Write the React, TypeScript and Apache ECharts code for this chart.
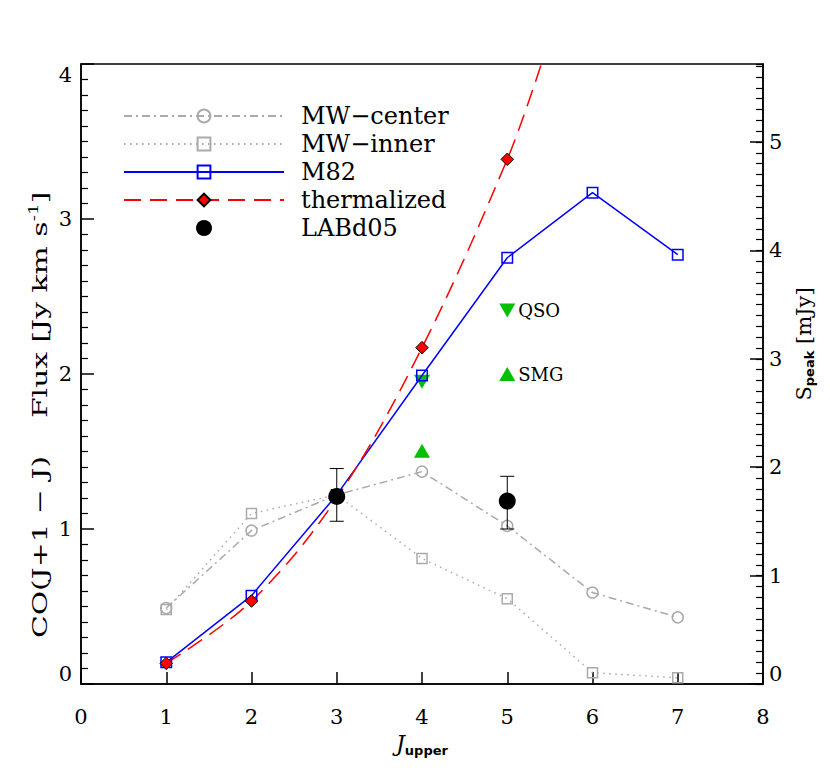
import { useEffect, useRef } from 'react';
import * as echarts from 'echarts';

// ---- data ----
const jUpper = [1, 2, 3, 4, 5, 6, 7];
const mwCenter = [0.49, 0.99, 1.22, 1.37, 1.02, 0.59, 0.43];
const mwInner = [0.48, 1.1, 1.22, 0.81, 0.55, 0.073, 0.04];
const m82 = [0.14, 0.57, 1.22, 1.99, 2.75, 3.17, 2.77];
const thermJ = [1, 2, 3, 4, 5];
const thermalized = [0.133, 0.535, 1.2, 2.17, 3.385];
const thermExit = [5.4, 4.0]; // where the dashed curve leaves the top of the frame
const labJ = [3, 5];
const labFlux = [1.21, 1.18];
const labLow = [1.05, 1.0];
const labHigh = [1.39, 1.34];
const downJ = [4, 5];
const downFlux = [1.95, 2.41];
const upJ = [4, 5];
const upFlux = [1.505, 2.0];
const sampleNames = ['QSO', 'SMG'];
const seriesNames = ['MW\u2212center', 'MW\u2212inner', 'M82', 'thermalized', 'LABd05'];
const xRange = [0, 8];
const yLeftRange = [0, 4];
const yRightRange = [0, 5.72];
const yLeftTitle = ['CO(J+1 \u2212 J)    Flux [Jy km s', '-1', ']'];

const SERIF = '"DejaVu Serif", serif';
const SANS = '"DejaVu Sans", sans-serif';
const GRAY = '#aaaaaa';
const GREEN = '#00c000';

export default function App() {
  const ref = useRef<HTMLDivElement>(null);
  useEffect(() => {
    if (!ref.current) return;
    const chart = echarts.init(ref.current, null, { renderer: 'svg' });
    const axisLine = { show: true, lineStyle: { color: '#000', width: 1.5 } };
    const option: any = {
      animation: false,
      backgroundColor: '#fff',
      grid: { left: 81, right: 67, top: 64, bottom: 87, show: true, borderColor: '#000', borderWidth: 1.5 },
      legend: {
        data: seriesNames,
        orient: 'vertical',
        left: 123,
        top: 104,
        padding: 0,
        itemWidth: 160,
        itemHeight: 16,
        itemGap: 4,
        selectedMode: false,
        textStyle: { fontFamily: SERIF, fontSize: 24, color: '#000', padding: [0, 0, 0, 12] },
      },
      graphic: [
        {
          type: 'text',
          x: 40,
          y: 415,
          rotation: Math.PI / 2,
          scaleX: 1.42,
          silent: true,
          style: {
            text: `{t|${yLeftTitle[0]}}{sup|${yLeftTitle[1]}}{t|${yLeftTitle[2]}}`,
            align: 'center',
            verticalAlign: 'middle',
            fill: '#000',
            rich: {
              t: { fontFamily: SERIF, fontSize: 21, fill: '#000', color: '#000' },
              sup: { fontFamily: SERIF, fontSize: 13, fill: '#000', color: '#000', padding: [0, 0, 12, 0] },
            },
          },
        },
      ],
      xAxis: {
        type: 'value',
        min: xRange[0],
        max: xRange[1],
        interval: 1,
        axisLine,
        axisTick: { show: true, inside: true, length: 12, lineStyle: { color: '#000', width: 1.5 } },
        axisLabel: { fontFamily: SERIF, fontSize: 21, color: '#000', margin: 22 },
        splitLine: { show: false },
        name: '{j|J}{sub|upper}',
        nameLocation: 'middle',
        nameGap: 46,
        nameTextStyle: {
          rich: {
            j: { fontFamily: SERIF, fontStyle: 'italic', fontSize: 22, color: '#000' },
            sub: { fontFamily: SANS, fontWeight: 'bold', fontSize: 13, color: '#000', padding: [14, 0, 0, 0] },
          },
        },
      },
      yAxis: [
        {
          type: 'value',
          position: 'left',
          min: yLeftRange[0],
          max: yLeftRange[1],
          interval: 1,
          axisLine,
          axisTick: { show: true, inside: true, length: 13, lineStyle: { color: '#000', width: 1.5 } },
          minorTick: { show: true, splitNumber: 10, length: 7, lineStyle: { color: '#000', width: 1.2 } },
          axisLabel: {
            fontFamily: SERIF, fontSize: 21, color: '#000', margin: 9,
            verticalAlignMaxLabel: 'top', verticalAlignMinLabel: 'bottom',
          },
          splitLine: { show: false },
        },
        {
          type: 'value',
          position: 'right',
          min: yRightRange[0],
          max: yRightRange[1],
          interval: 1,
          axisLine,
          axisTick: { show: true, inside: true, length: 13, lineStyle: { color: '#000', width: 1.5 } },
          axisLabel: {
            fontFamily: SERIF, fontSize: 21, color: '#000', margin: 6, showMaxLabel: false,
            verticalAlignMinLabel: 'bottom',
          },
          splitLine: { show: false },
          name: '{s|S}{sub|peak}{s| [mJy]}',
          nameLocation: 'middle',
          nameRotate: 90,
          nameGap: 22,
          nameTextStyle: {
            padding: [0, 0, 0, 60],
            rich: {
              s: { fontFamily: SERIF, fontSize: 21, color: '#000' },
              sub: { fontFamily: SANS, fontWeight: 'bold', fontSize: 13, color: '#000', padding: [12, 0, 0, 0] },
            },
          },
        },
        {
          type: 'value',
          position: 'right',
          min: yRightRange[0],
          max: yRightRange[1],
          interval: 0.1,
          axisLine: { show: false },
          axisTick: { show: true, inside: true, length: 7, lineStyle: { color: '#000', width: 1.2 } },
          axisLabel: { show: false },
          splitLine: { show: false },
        },
      ],
      series: [
        {
          name: 'greenDown',
          type: 'scatter',
          symbol: 'triangle',
          symbolRotate: 180,
          symbolSize: [16, 14],
          itemStyle: { color: GREEN, opacity: 1 },
          z: 2,
          data: downJ.map((j, i) => ({
            value: [j, downFlux[i]],
            label: i === 1 ? { show: true, formatter: sampleNames[0] } : { show: false },
          })),
          label: { position: 'right', distance: 3, fontFamily: SERIF, fontSize: 18, color: '#000' },
        },
        {
          name: 'greenUp',
          type: 'scatter',
          symbol: 'triangle',
          symbolSize: [16, 14],
          itemStyle: { color: GREEN, opacity: 1 },
          z: 2,
          data: upJ.map((j, i) => ({
            value: [j, upFlux[i]],
            label: i === 1 ? { show: true, formatter: sampleNames[1] } : { show: false },
          })),
          label: { position: 'right', distance: 3, fontFamily: SERIF, fontSize: 18, color: '#000' },
        },
        {
          name: seriesNames[0],
          type: 'line',
          data: jUpper.map((j, i) => [j, mwCenter[i]]),
          symbol: 'circle',
          symbolSize: 11,
          itemStyle: { color: 'transparent', borderColor: GRAY, borderWidth: 1.5 },
          lineStyle: { color: GRAY, width: 1.5, type: [8, 4, 2, 4] },
          z: 3,
        },
        {
          name: seriesNames[1],
          type: 'line',
          data: jUpper.map((j, i) => [j, mwInner[i]]),
          symbol: 'rect',
          symbolSize: 10,
          itemStyle: { color: 'transparent', borderColor: GRAY, borderWidth: 1.5 },
          lineStyle: { color: GRAY, width: 1.5, type: [1.5, 4.5] },
          z: 3,
        },
        {
          name: seriesNames[2],
          type: 'line',
          data: jUpper.map((j, i) => [j, m82[i]]),
          symbol: 'rect',
          symbolSize: 10.5,
          itemStyle: { color: 'transparent', borderColor: '#0000ff', borderWidth: 1.5 },
          lineStyle: { color: '#0000ff', width: 1.5 },
          z: 4,
        },
        {
          name: seriesNames[3],
          type: 'line',
          smooth: 0.35,
          data: [
            ...thermJ.map((j, i) => [j, thermalized[i]]),
            { value: thermExit, symbol: 'none' },
          ],
          symbol: 'diamond',
          symbolSize: 12.5,
          itemStyle: { color: '#ff0000', borderColor: '#000', borderWidth: 1 },
          lineStyle: { color: '#ff0000', width: 1.5, type: [17, 9] },
          z: 4,
        },
        {
          name: 'errors',
          type: 'custom',
          data: labJ.map((j, i) => [j, labLow[i], labHigh[i]]),
          encode: { x: 0, y: [1, 2] },
          z: 5,
          silent: true,
          renderItem: (_params: any, api: any) => {
            const x = api.value(0);
            const lo = api.coord([x, api.value(1)]);
            const hi = api.coord([x, api.value(2)]);
            const w = 7;
            const st = { stroke: '#000', lineWidth: 1 };
            return {
              type: 'group',
              children: [
                { type: 'line', shape: { x1: lo[0], y1: lo[1], x2: hi[0], y2: hi[1] }, style: st },
                { type: 'line', shape: { x1: lo[0] - w, y1: lo[1], x2: lo[0] + w, y2: lo[1] }, style: st },
                { type: 'line', shape: { x1: hi[0] - w, y1: hi[1], x2: hi[0] + w, y2: hi[1] }, style: st },
              ],
            };
          },
        },
        {
          name: seriesNames[4],
          type: 'scatter',
          data: labJ.map((j, i) => [j, labFlux[i]]),
          symbol: 'circle',
          symbolSize: 17,
          itemStyle: { color: '#000', opacity: 1 },
          z: 6,
        },
      ],
    };
    chart.setOption(option);
    return () => chart.dispose();
  }, []);
  return <div ref={ref} style={{ position: 'fixed', left: 0, top: 0, width: 830, height: 771 }} />;
}
